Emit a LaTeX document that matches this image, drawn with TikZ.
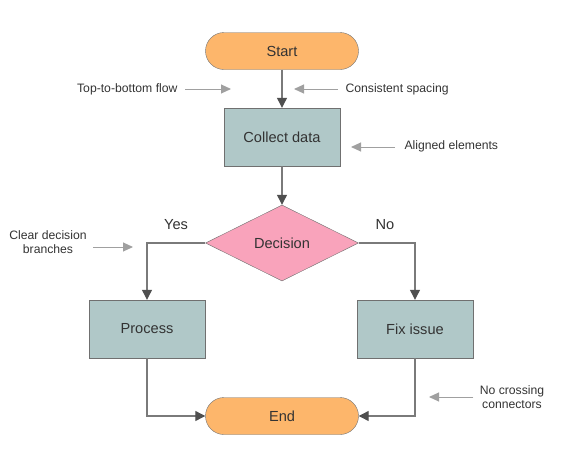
\documentclass[tikz,border=0pt]{standalone}
\usepackage{fontspec}
\setmainfont{Liberation Sans}
\usetikzlibrary{arrows.meta,shapes.geometric}
\definecolor{termfill}{HTML}{FDB66B}
\definecolor{boxfill}{HTML}{B0C8C8}
\definecolor{decfill}{HTML}{F9A3BB}
\definecolor{edgegray}{HTML}{707070}
\definecolor{linegray}{HTML}{7A7A7A}
\definecolor{headgray}{HTML}{4F4F4F}
\definecolor{notegray}{HTML}{A0A0A0}
\definecolor{txtgray}{HTML}{333333}
\tikzset{
  term/.style={draw=edgegray,fill=termfill,rounded corners=18.5pt,minimum width=153pt,minimum height=37pt,font=\fontsize{14.6}{17}\selectfont,text=txtgray},
  stepbox/.style={draw=edgegray,fill=boxfill,minimum width=116pt,minimum height=58pt,font=\fontsize{14.6}{17}\selectfont,text=txtgray},
  decide/.style={diamond,draw=edgegray,fill=decfill,aspect=2,minimum width=153pt,minimum height=76pt,inner sep=0pt,font=\fontsize{14.6}{17}\selectfont,text=txtgray},
  link/.style={draw=linegray,line width=1.2pt,-{Triangle[length=10pt,width=10pt,color=headgray]}},
  lbl/.style={font=\fontsize{14.6}{17}\selectfont,text=txtgray},
  note/.style={font=\fontsize{12.2}{14.5}\selectfont,text=txtgray,align=center},
  pointer/.style={draw=notegray,line width=1pt,-{Triangle[length=10pt,width=9pt]}}
}
\begin{document}
\begin{tikzpicture}[x=1pt,y=-1pt]
  \useasboundingbox (0,0) rectangle (563,469);
  % flow
  \node[term] (start) at (282,51) {Start};
  \node[stepbox] (collect) at (282,137) {Collect data};
  \node[decide] (dec) at (282,243) {Decision};
  \node[stepbox] (proc) at (147,329) {Process};
  \node[stepbox] (fix) at (415,329) {Fix issue};
  \node[term] (end) at (282,416) {End};
  \node[lbl] (yes) at (176,225) {Yes};
  \node[lbl] (no) at (385,225) {No};
  \draw[link] (start) -- (collect);
  \draw[link] (collect) -- (dec);
  \draw[link] (dec.west) -| (proc.north);
  \draw[link] (dec.east) -| (fix.north);
  \draw[link] (proc.south) |- (end.west);
  \draw[link] (fix.south) |- (end.east);
  % notes
  \node[note,anchor=east] (nflow) at (181,89) {Top-to-bottom flow};
  \node[note,anchor=west] (nspace) at (342,89) {Consistent spacing};
  \node[note,anchor=west] (nalign) at (401,146) {Aligned elements};
  \node[note] (nbranch) at (48,242) {Clear decision\\branches};
  \node[note] (ncross) at (512,397) {No crossing\\connectors};
  \coordinate (tflow) at (231,89);
  \coordinate (tspace) at (294,89);
  \coordinate (talign) at (351,147);
  \coordinate (tbranch) at (133,247);
  \coordinate (tcross) at (429,397);
  \draw[pointer] ([xshift=4pt]nflow.east) -- (tflow);
  \draw[pointer] ([xshift=-4pt]nspace.west) -- (tspace);
  \draw[pointer] ([xshift=-6pt]nalign.west |- talign) -- (talign);
  \draw[pointer] ([xshift=3pt]nbranch.east |- tbranch) -- (tbranch);
  \draw[pointer] ([xshift=-3pt]ncross.west |- tcross) -- (tcross);
\end{tikzpicture}
\end{document}
